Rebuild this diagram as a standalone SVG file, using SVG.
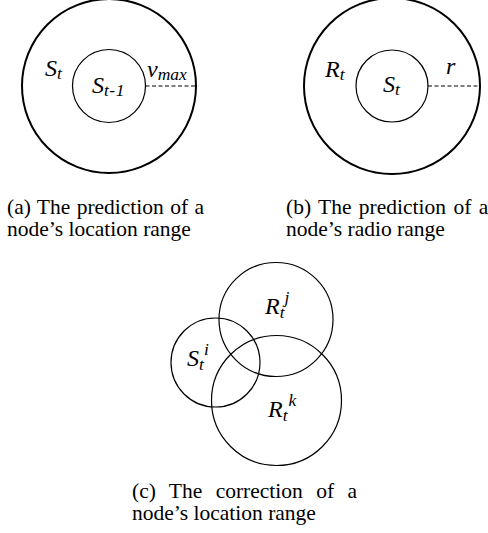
<svg xmlns="http://www.w3.org/2000/svg" width="488" height="533" viewBox="0 0 488 533">
<style>
.bg{fill:#fff}
.thick{fill:none;stroke:#000;stroke-width:2}
.thin{fill:none;stroke:#000;stroke-width:1.2}
.dash{stroke:#000;stroke-width:1.2;stroke-dasharray:4,2.5}
.m{font-family:"Liberation Serif",serif;font-style:italic;font-size:24px;fill:#000}
.sub{font-size:17.5px}
.cap{font-family:"Liberation Serif",serif;font-size:21.5px;fill:#000}
</style>
<rect class="bg" x="0" y="0" width="488" height="533"/>
<g id="panel-a">
  <circle class="thick" cx="109" cy="86" r="87"/>
  <circle class="thin" cx="109" cy="86" r="36.5"/>
  <line class="dash" x1="145.5" y1="86" x2="196" y2="86"/>
  <text class="m" x="45" y="76">S<tspan class="sub" dy="3">t</tspan></text>
  <text class="m" x="92" y="93">S<tspan class="sub" dy="3" letter-spacing="0.5">t-1</tspan></text>
  <text class="m" x="147" y="77">v<tspan class="sub" dy="3">max</tspan></text>
  <text class="cap" x="7" y="214" word-spacing="1">(a) The prediction of a</text>
  <text class="cap" x="7" y="236">node’s location range</text>
</g>
<g id="panel-b">
  <circle class="thick" cx="392" cy="86" r="88"/>
  <circle class="thin" cx="392" cy="86" r="36"/>
  <line class="dash" x1="428" y1="86" x2="480" y2="86"/>
  <text class="m" x="325" y="77">R<tspan class="sub" dy="3">t</tspan></text>
  <text class="m" x="383" y="92">S<tspan class="sub" dy="3">t</tspan></text>
  <text class="m" x="446" y="74">r</text>
  <text class="cap" x="286" y="214" word-spacing="2">(b) The prediction of a</text>
  <text class="cap" x="286" y="236">node’s radio range</text>
</g>
<g id="panel-c">
  <circle class="thin" cx="215.5" cy="362.5" r="44.5"/>
  <circle class="thin" cx="276" cy="319.5" r="57"/>
  <circle class="thin" cx="276.5" cy="400.5" r="65"/>
  <text class="m" x="187" y="366">S<tspan class="sub" dy="4">t</tspan><tspan class="sub" dx="0" dy="-15">i</tspan></text>
  <text class="m" x="265" y="314">R<tspan class="sub" dy="4">t</tspan><tspan class="sub" dx="0" dy="-15">j</tspan></text>
  <text class="m" x="268" y="417">R<tspan class="sub" dy="4">t</tspan><tspan class="sub" dx="1" dy="-15">k</tspan></text>
  <text class="cap" x="132" y="498" word-spacing="8">(c) The correction of a</text>
  <text class="cap" x="132" y="520">node’s location range</text>
</g>
<g id="connectors"></g>
</svg>
